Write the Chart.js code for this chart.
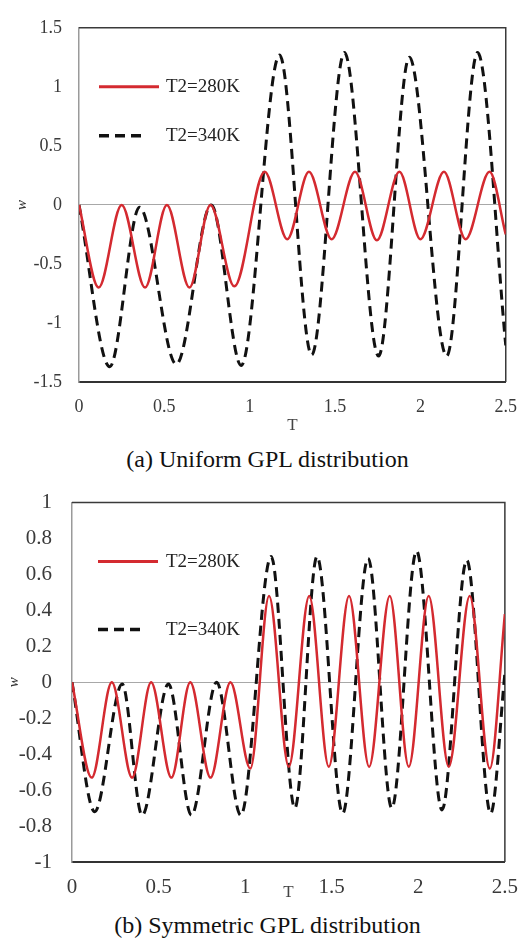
<!DOCTYPE html>
<html>
<head>
<meta charset="utf-8">
<title>W versus T</title>
<script src="https://cdn.jsdelivr.net/npm/chart.js@4.4.1/dist/chart.umd.min.js"></script>
<style>
  body { margin: 0; background: #fff; width: 531px; height: 943px; position: relative; overflow: hidden; }
  canvas { position: absolute; left: 0; }
  #panelA { top: 0; }
  #panelB { top: 470px; }
  .caption {
    position: absolute; left: 0; width: 535px; text-align: center;
    font-family: "Liberation Serif", "Times New Roman", serif;
    font-size: 24px; line-height: 24px; color: #111;
  }
</style>
</head>
<body>
<canvas id="panelA" width="531" height="440"></canvas>
<div class="caption" style="top:447px">(a) Uniform GPL distribution</div>
<canvas id="panelB" width="531" height="440"></canvas>
<div class="caption" style="top:913px">(b) Symmetric GPL distribution</div>

<script>
// (a) uniform GPL distribution: turning points of W against T
const tA280 = [0, 0.115, 0.25, 0.387, 0.515, 0.647, 0.77, 0.91, 1.088, 1.22, 1.347, 1.48, 1.617, 1.745, 1.877, 2.0, 2.138, 2.265, 2.405, 2.5];
const wA280 = [0, -0.70, 0, -0.70, 0, -0.70, 0, -0.69, 0.28, -0.29, 0.28, -0.29, 0.28, -0.30, 0.28, -0.29, 0.28, -0.29, 0.28, -0.25];
const tA340 = [0, 0.18, 0.355, 0.57, 0.775, 0.95, 1.175, 1.363, 1.555, 1.755, 1.935, 2.154, 2.335, 2.5];
const wA340 = [0, -1.37, -0.02, -1.35, 0, -1.36, 1.27, -1.27, 1.29, -1.28, 1.25, -1.28, 1.29, -1.19];

// (b) symmetric GPL distribution
const tB280 = [0, 0.114, 0.23, 0.347, 0.457, 0.574, 0.683, 0.80, 0.915, 1.03, 1.138, 1.252, 1.37, 1.483, 1.60, 1.716, 1.835, 1.945, 2.06, 2.176, 2.297, 2.413, 2.5];
const wB280 = [0, -0.53, 0, -0.53, 0, -0.53, 0, -0.53, 0, -0.48, 0.48, -0.47, 0.48, -0.47, 0.48, -0.47, 0.48, -0.47, 0.48, -0.47, 0.48, -0.48, 0.38];
const tB340 = [0, 0.131, 0.29, 0.405, 0.557, 0.69, 0.835, 0.975, 1.15, 1.287, 1.415, 1.563, 1.71, 1.847, 1.99, 2.137, 2.28, 2.418, 2.5];
const wB340 = [0, -0.72, -0.01, -0.74, -0.01, -0.74, 0, -0.74, 0.70, -0.70, 0.70, -0.73, 0.69, -0.70, 0.73, -0.71, 0.68, -0.73, 0.05];

const seriesLabels = ['T2=280K', 'T2=340K'];
const xTicks = [0, 0.5, 1, 1.5, 2, 2.5];
const yTicksA = [-1.5, -1, -0.5, 0, 0.5, 1, 1.5];
const yTicksB = [-1, -0.8, -0.6, -0.4, -0.2, 0, 0.2, 0.4, 0.6, 0.8, 1];

Chart.defaults.font.family = '"Liberation Serif", "Times New Roman", serif';
Chart.defaults.color = '#3a3a3a';

// top and right edges of the plot box
const boxFrame = {
    id: 'boxFrame',
    beforeDatasetsDraw(chart) {
        const { ctx, chartArea: a } = chart;
        ctx.save();
        ctx.strokeStyle = '#3a3a3a';
        ctx.lineWidth = 1.5;
        ctx.beginPath();
        ctx.moveTo(a.left, a.top);
        ctx.lineTo(a.right, a.top);
        ctx.lineTo(a.right, a.bottom);
        ctx.stroke();
        ctx.restore();
    }
};

// legend drawn inside the plot, one row per dataset
const lineKey = {
    id: 'lineKey',
    afterDatasetsDraw(chart, args, opts) {
        const { ctx, chartArea: a } = chart;
        ctx.save();
        chart.data.datasets.forEach((ds, i) => {
            const y = a.top + opts.rows[i];
            const len = ds.borderDash.length ? 48 : 60;
            ctx.strokeStyle = ds.borderColor;
            ctx.lineWidth = ds.borderWidth + 0.5;
            ctx.setLineDash(ds.borderDash);
            ctx.beginPath();
            ctx.moveTo(opts.x, y);
            ctx.lineTo(opts.x + len, y);
            ctx.stroke();
            ctx.setLineDash([]);
            ctx.fillStyle = '#222';
            ctx.font = opts.font;
            ctx.textBaseline = 'middle';
            ctx.fillText(ds.label, opts.textX, y);
        });
        ctx.restore();
    }
};

const toPoints = (ts, ws) => ts.map((t, i) => ({ x: t, y: ws[i] }));

const createPanel = (canvasId, red, black, yTicks, look) => {
    const ctx = document.getElementById(canvasId).getContext('2d');

    const chartData = {
        datasets: [{
            label: seriesLabels[0],
            data: toPoints(red[0], red[1]),
            borderColor: '#d42a30',
            borderWidth: 2.5,
            borderDash: [],
            pointRadius: 0,
            tension: 0.4,
            cubicInterpolationMode: 'monotone',
            fill: false
        }, {
            label: seriesLabels[1],
            data: toPoints(black[0], black[1]),
            borderColor: '#111',
            borderWidth: 3,
            borderDash: [10, 6],
            pointRadius: 0,
            tension: 0.4,
            cubicInterpolationMode: 'monotone',
            fill: false
        }]
    };

    const chartOptions = {
        responsive: false,
        animation: false,
        layout: { padding: { left: 0, top: look.top, right: 19, bottom: 0 } },
        plugins: {
            legend: { display: false },
            tooltip: { enabled: false },
            lineKey: { rows: look.keyRows, x: look.keyX, textX: 166, font: '19px "Liberation Serif", serif' }
        },
        scales: {
            x: {
                type: 'linear',
                min: 0,
                max: 2.5,
                afterBuildTicks: (s) => { s.ticks = xTicks.map(v => ({ value: v })); },
                afterFit: (s) => { s.height = look.xHeight; },
                grid: { display: false, drawTicks: false },
                border: { color: '#333', width: 2 },
                ticks: { padding: look.xPad, font: { size: look.tickSize }, callback: v => String(v) },
                title: {
                    display: true,
                    text: 'T',
                    color: '#444',
                    font: { size: 17 },
                    padding: { top: 0, bottom: look.tPad }
                }
            },
            y: {
                type: 'linear',
                min: yTicks[0],
                max: yTicks[yTicks.length - 1],
                afterBuildTicks: (s) => { s.ticks = yTicks.map(v => ({ value: v })); },
                afterFit: (s) => { s.width = look.yWidth; },
                grid: {
                    drawTicks: false,
                    lineWidth: 1,
                    color: (c) => (c.tick && c.tick.value === 0 ? '#a8a8a8' : 'rgba(0,0,0,0)')
                },
                border: { color: '#9a9a9a', width: 1.5 },
                ticks: { padding: look.yPad, font: { size: look.tickSize }, callback: v => String(v) },
                title: {
                    display: true,
                    text: 'w',
                    color: '#333',
                    font: { size: 15, style: 'italic' },
                    padding: { top: look.wPad, bottom: 0 }
                }
            }
        }
    };

    new Chart(ctx, {
        type: 'line',
        data: chartData,
        options: chartOptions,
        plugins: [boxFrame, lineKey]
    });
};

createPanel('panelA', [tA280, wA280], [tA340, wA340], yTicksA, {
    top: 14, xHeight: 58, yWidth: 79, tickSize: 18, xPad: 14, yPad: 17, tPad: 4, wPad: 13,
    keyRows: [59, 108], keyX: 99
});

createPanel('panelB', [tB280, wB280], [tB340, wB340], yTicksB, {
    top: 12, xHeight: 48, yWidth: 72, tickSize: 21, xPad: 13, yPad: 20, tPad: 7, wPad: 5,
    keyRows: [59, 127], keyX: 98
});
</script>
</body>
</html>
